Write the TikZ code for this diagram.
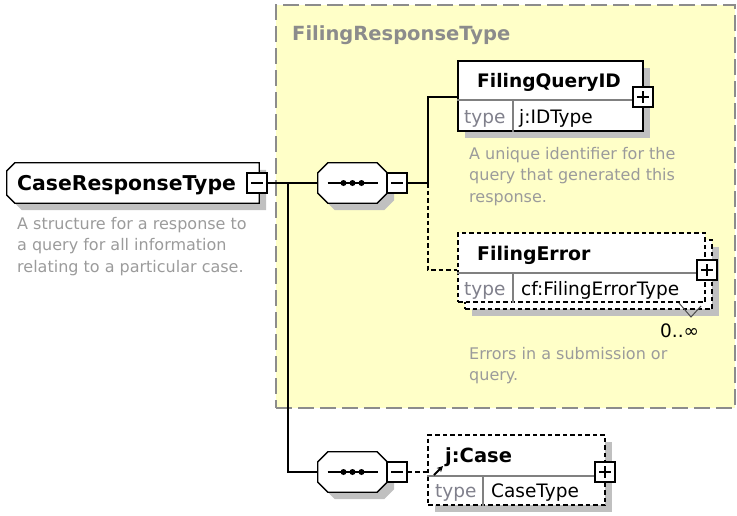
\documentclass[tikz,border=0pt]{standalone}
\usepackage{fontspec}
\setmainfont{DejaVu Sans}
\usetikzlibrary{shadows,arrows.meta}
\definecolor{grpyellow}{RGB}{255,255,200}
\definecolor{grpgray}{RGB}{140,140,140}
\definecolor{descgray}{RGB}{155,155,155}
\definecolor{typegray}{RGB}{128,128,140}
\definecolor{shadegray}{RGB}{192,192,192}

% outlines of the beveled shapes, built from a node's corners
\newcommand{\leftbevel}[2]{([xshift=#2]#1.north west) -- (#1.north east) -- (#1.south east)
  -- ([xshift=#2]#1.south west) -- ([yshift=#2]#1.south west) -- ([yshift=-#2]#1.north west) -- cycle}
\newcommand{\allbevel}[2]{([xshift=#2]#1.north west) -- ([xshift=-#2]#1.north east) -- ([yshift=-#2]#1.north east)
  -- ([yshift=#2]#1.south east) -- ([xshift=-#2]#1.south east) -- ([xshift=#2]#1.south west)
  -- ([yshift=#2]#1.south west) -- ([yshift=-#2]#1.north west) -- cycle}

\tikzset{
  shade/.style={drop shadow={shadow xshift=7pt, shadow yshift=-7pt, fill=shadegray, opacity=1}},
  shadowfill/.style={fill=shadegray, transform canvas={shift={(7pt,-7pt)}}},
  outline/.style={draw=black, line width=1.3pt, fill=white},
  frame/.style={rectangle, inner sep=0},
  elem/.style={rectangle, draw=black, line width=1.3pt, fill=white, inner sep=0},
  optelem/.style={elem, dash pattern=on 4.5pt off 3pt},
  togglebox/.style={rectangle, draw=black, line width=1.3pt, fill=white, inner sep=0, minimum size=20pt},
  minusbox/.style={togglebox, path picture={
      \draw[line width=1.2pt] ([xshift=4pt]path picture bounding box.west) -- ([xshift=-4pt]path picture bounding box.east);}},
  plusbox/.style={togglebox, path picture={
      \draw[line width=1.2pt] ([xshift=4pt]path picture bounding box.west) -- ([xshift=-4pt]path picture bounding box.east);
      \draw[line width=1.2pt] ([yshift=-4pt]path picture bounding box.north) -- ([yshift=4pt]path picture bounding box.south);}},
  title/.style={inner sep=0, anchor=west, text height=14.2pt, text depth=0pt, font=\fontsize{19.5}{23}\selectfont\bfseries},
  typetxt/.style={inner sep=0, anchor=west, text height=13.5pt, text depth=0pt, font=\fontsize{18.5}{22}\selectfont},
  desc/.style={inner sep=0, anchor=north west, align=left, text=descgray, font=\fontsize{16}{21.5}\selectfont},
  conn/.style={line width=1.4pt, draw=black},
  optconn/.style={conn, dash pattern=on 4.5pt off 3pt},
  divider/.style={line width=1.2pt, draw=gray}
}

\begin{document}
\begin{tikzpicture}[x=1pt,y=-1pt]
\useasboundingbox (0,0) rectangle (737,515);

% group FilingResponseType
\node[rectangle, fill=grpyellow, draw=grpgray, line width=1.5pt, dash pattern=on 16pt off 6pt,
  minimum width=459pt, minimum height=403pt, inner sep=0] (grp) at (505.5,206.5) {};
\node[title, text=grpgray] (grplabel) at (292,33) {FilingResponseType};

% CaseResponseType
\node[frame, minimum width=252pt, minimum height=40pt] (crt) at (133,183) {};
\fill[shadowfill] \leftbevel{crt}{8pt};
\filldraw[outline] \leftbevel{crt}{8pt};
\node[title, font=\fontsize{20.4}{24}\selectfont\bfseries] (crtname) at (17,183) {CaseResponseType};
\node[minusbox] (crtm) at (257,183) {};
\node[desc] (crtdesc) at (17,217) {A structure for a response to\\a query for all information\\relating to a particular case.};

% sequences
\node[frame, minimum width=69pt, minimum height=40pt] (seqa) at (352.5,183) {};
\node[frame, minimum width=69pt, minimum height=40pt] (seqb) at (352.5,472) {};
\foreach \s in {seqa,seqb} {
  \fill[shadowfill] \allbevel{\s}{10pt};
  \filldraw[outline] \allbevel{\s}{10pt};
  \draw[line width=1.2pt] ([xshift=-25pt]\s.center) -- ([xshift=25pt]\s.center);
  \foreach \dx in {-9,0,9}
    \fill ([xshift=\dx pt]\s.center) circle (3pt);
}
\node[minusbox] (seqam) at (397,183) {};
\node[minusbox] (seqbm) at (397,472) {};

% FilingQueryID
\node[elem, shade, minimum width=185pt, minimum height=70pt] (fqid) at (550.5,96) {};
\draw[divider] (fqid.west |- 0,100) -- (fqid.east |- 0,100);
\draw[divider] (513,100) -- (fqid.south -| 513,0);
\node[title, font=\fontsize{18.6}{22}\selectfont\bfseries] (fqidname) at (477,80.5) {FilingQueryID};
\node[typetxt, text=typegray] (fqidtype) at (464,116.5) {type};
\node[typetxt] (fqidval) at (519,116.5) {j:IDType};
\node[plusbox] (fqidp) at (643,97) {};
\node[desc] (fqiddesc) at (469,147) {A unique identifier for the\\query that generated this\\response.};

% FilingError
\node[optelem, shade, minimum width=247pt, minimum height=69pt] (ferrback) at (588.5,274.5) {};
\node[optelem, minimum width=247pt, minimum height=69pt] (ferr) at (581.5,267.5) {};
\draw[divider] (ferr.west |- 0,273) -- (ferr.east |- 0,273);
\draw[divider] (513,273) -- (ferr.south -| 513,0);
\node[title, font=\fontsize{18.9}{22}\selectfont\bfseries] (ferrname) at (477,253) {FilingError};
\node[typetxt, text=typegray] (ferrtype) at (464,289) {type};
\node[typetxt] (ferrval) at (521,289) {cf:FilingErrorType};
\node[plusbox] (ferrp) at (707,270) {};
\draw[line width=1pt, black!70] (679,303) -- (691,317) -- (701,306);
\node[typetxt] (ferrocc) at (660,331) {0..∞};
\node[desc] (ferrdesc) at (469,347) {Errors in a submission or\\query.};

% j:Case
\node[optelem, shade, minimum width=177pt, minimum height=70pt] (jcase) at (516.5,470) {};
\draw[divider] (jcase.west |- 0,476) -- (jcase.east |- 0,476);
\draw[divider] (483,476) -- (jcase.south -| 483,0);
\node[title] (jcasename) at (445,455.5) {j:Case};
\node[typetxt, text=typegray] (jcasetype) at (435,490.5) {type};
\node[typetxt] (jcaseval) at (491,490.5) {CaseType};
\node[plusbox] (jcasep) at (605,472) {};
\draw[line width=2pt, -{Stealth[length=6pt,width=6pt]}] (434,475) -- (443,466);

% connectors
\coordinate (fork) at (288,183);
\coordinate (branch) at (428,183);
\draw[conn] (crtm.east) -- (seqa.west);
\draw[conn] (fork) |- (seqb.west);
\draw[conn] (seqam.east) -- (branch) |- (fqid.west |- fqidp.center);
\draw[optconn] (branch) |- (ferr.west |- ferrp.center);
\draw[optconn] (seqbm.east) -- (jcase.west |- seqbm.east);
\end{tikzpicture}
\end{document}
